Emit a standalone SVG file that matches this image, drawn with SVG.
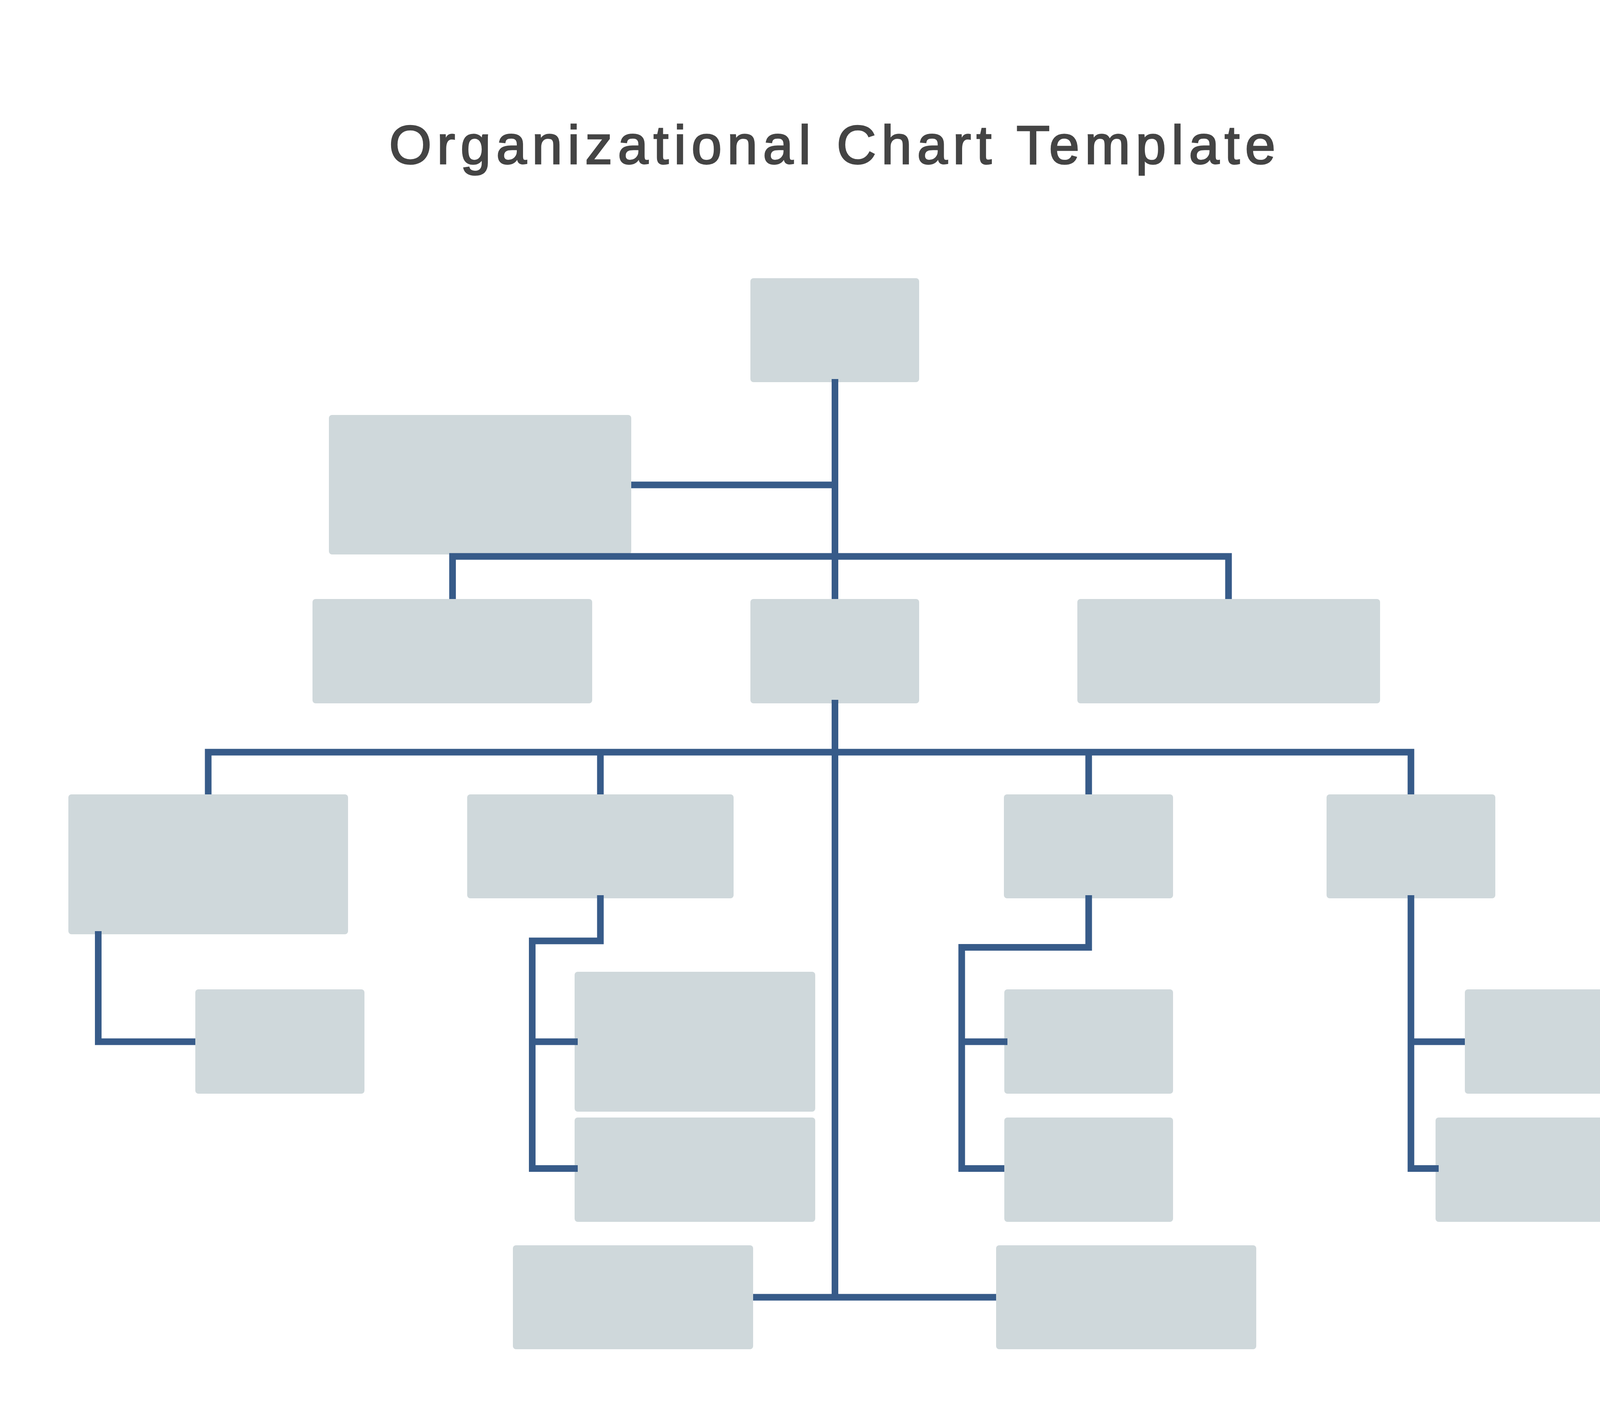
<svg xmlns="http://www.w3.org/2000/svg" width="4358" height="3629" viewBox="0 0 4358 3629">
<style>
.box{fill:#CFD8DB;}
.ln{fill:none;stroke:#375B89;stroke-width:17;stroke-linejoin:miter;stroke-linecap:butt;}
.title{font-family:"Liberation Sans",Arial,sans-serif;font-size:140px;fill:#444444;stroke:#444444;stroke-width:3.5;letter-spacing:13.6px;}
</style>
<rect width="4358" height="3629" fill="#FFFFFF"/>
<text class="title" x="996" y="419">Organizational Chart Template</text>
<g id="nodes">
<g id="n-top"><rect class="box" x="1921" y="712" width="432" height="266" rx="8"/></g>
<g id="n-assistant"><rect class="box" x="842" y="1062" width="774" height="357" rx="8"/></g>
<g id="n-r2-left"><rect class="box" x="800" y="1533" width="716" height="267" rx="8"/></g>
<g id="n-r2-mid"><rect class="box" x="1921" y="1533" width="432" height="267" rx="8"/></g>
<g id="n-r2-right"><rect class="box" x="2758" y="1533" width="775" height="267" rx="8"/></g>
<g id="n-r3-1"><rect class="box" x="175" y="2033" width="716" height="358" rx="8"/></g>
<g id="n-r3-2"><rect class="box" x="1196" y="2033" width="682" height="266" rx="8"/></g>
<g id="n-r3-3"><rect class="box" x="2570" y="2033" width="433" height="266" rx="8"/></g>
<g id="n-r3-4"><rect class="box" x="3396" y="2033" width="432" height="266" rx="8"/></g>
<g id="n-r4-1"><rect class="box" x="500" y="2532" width="433" height="267" rx="8"/></g>
<g id="n-r4-2a"><rect class="box" x="1471" y="2487" width="616" height="358" rx="8"/></g>
<g id="n-r4-2b"><rect class="box" x="1471" y="2860" width="616" height="267" rx="8"/></g>
<g id="n-r4-3a"><rect class="box" x="2571" y="2532" width="432" height="267" rx="8"/></g>
<g id="n-r4-3b"><rect class="box" x="2571" y="2860" width="432" height="267" rx="8"/></g>
<g id="n-r4-4a"><rect class="box" x="3750" y="2532" width="433" height="267" rx="8"/></g>
<g id="n-r4-4b"><rect class="box" x="3675" y="2860" width="433" height="267" rx="8"/></g>
<g id="n-b1"><rect class="box" x="1313" y="3187" width="615" height="266" rx="8"/></g>
<g id="n-b2"><rect class="box" x="2550" y="3187" width="666" height="266" rx="8"/></g>
</g>
<g id="connectors">
<path class="ln" d="M2137.5 970 V1533"/>
<path class="ln" d="M2137.5 1791 V3328"/>
<path class="ln" d="M1616 1241 H2137.5"/>
<path class="ln" d="M1158.5 1533 V1424 H3145 V1533"/>
<path class="ln" d="M533 2033 V1925 H3612 V2033"/>
<path class="ln" d="M1537 1925 V2033"/>
<path class="ln" d="M2787 1925 V2033"/>
<path class="ln" d="M251.5 2383 V2666 H500"/>
<path class="ln" d="M1537 2291 V2408 H1362.5 V2990.5 H1479"/>
<path class="ln" d="M1362.5 2666 H1479"/>
<path class="ln" d="M2787 2291 V2424.5 H2462 V2990.5 H2571"/>
<path class="ln" d="M2462 2666 H2579"/>
<path class="ln" d="M3612 2291 V2990.5 H3683"/>
<path class="ln" d="M3612 2666 H3750"/>
<path class="ln" d="M1928 3320 H2550"/>
</g>
</svg>
